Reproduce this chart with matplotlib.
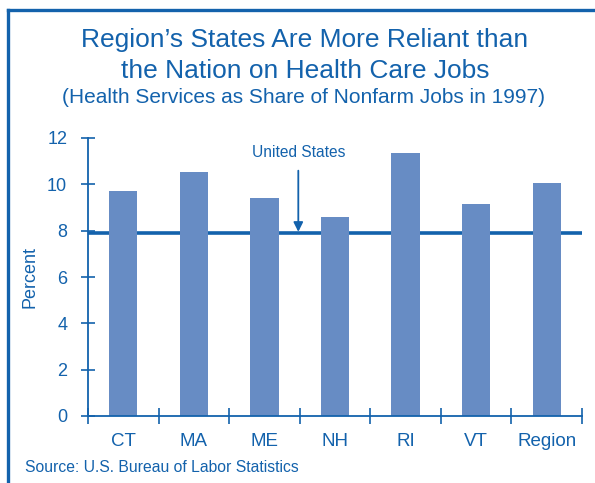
import matplotlib
matplotlib.use("Agg")
import matplotlib.pyplot as plt
from matplotlib.lines import Line2D

plt.rcParams['font.family'] = ['Liberation Sans', 'DejaVu Sans']

# data
categories = ["CT", "MA", "ME", "NH", "RI", "VT", "Region"]
shares = [9.7, 10.55, 9.4, 8.6, 11.35, 9.15, 10.05]
us_share = 7.9
y_ticks = [0, 2, 4, 6, 8, 10, 12]

BLUE = "#1362ac"
BAR = "#678cc4"

W, H = 595, 483
fig = plt.figure(figsize=(W / 100, H / 100), dpi=100)
ax = fig.add_axes([88 / W, 1 - 416 / H, (582 - 88) / W, (416 - 138) / H])

xs = list(range(len(categories)))
ax.axhline(us_share, color=BLUE, lw=2.6, zorder=1)
ax.bar(xs, shares, width=0.4, color=BAR, zorder=2)

ax.set_xlim(-0.5, len(categories) - 0.5)
ax.set_ylim(0, 12)
ax.set_yticks(y_ticks)
ax.set_xticks(xs)
ax.set_xticklabels(categories)
ax.set_xticks([i - 0.5 for i in range(len(categories) + 1)], minor=True)

for side in ("top", "right"):
    ax.spines[side].set_visible(False)
for side in ("left", "bottom"):
    ax.spines[side].set_color(BLUE)
    ax.spines[side].set_linewidth(1.3)

ax.tick_params(axis="x", which="major", length=0, pad=12, labelsize=13.5, labelcolor=BLUE)
ax.tick_params(axis="x", which="minor", length=11, direction="inout", color=BLUE, width=1.2)
ax.tick_params(axis="y", length=10, direction="inout", color=BLUE, width=1.2,
               pad=10, labelsize=13, labelcolor=BLUE)

ax.set_ylabel("Percent", color=BLUE, fontsize=13, labelpad=6)

ax.annotate("United States", xy=(2.48, us_share + 0.05), xytext=(2.48, 11.2),
            ha="center", va="baseline", color=BLUE, fontsize=11.2,
            arrowprops=dict(arrowstyle="-|>", color=BLUE, lw=1.3,
                            mutation_scale=14, shrinkA=6, shrinkB=0))

fig.text(305 / W, 1 - 47 / H, "Region’s States Are More Reliant than",
         ha="center", va="baseline", color=BLUE, fontsize=19)
fig.text(305 / W, 1 - 78 / H, "the Nation on Health Care Jobs",
         ha="center", va="baseline", color=BLUE, fontsize=19)
fig.text(304 / W, 1 - 103 / H, "(Health Services as Share of Nonfarm Jobs in 1997)",
         ha="center", va="baseline", color=BLUE, fontsize=15)
fig.text(25 / W, 1 - 472 / H, "Source: U.S. Bureau of Labor Statistics",
         ha="left", va="baseline", color=BLUE, fontsize=11.3)

# frame along the left and top edges
fig.add_artist(Line2D([8 / W, 8 / W], [0, 1 - 10 / H], color=BLUE, lw=2.4,
                      transform=fig.transFigure, solid_capstyle="projecting"))
fig.add_artist(Line2D([8 / W, 1], [1 - 10 / H, 1 - 10 / H], color=BLUE, lw=2.4,
                      transform=fig.transFigure, solid_capstyle="projecting"))

fig.savefig("out.png", dpi=100)
